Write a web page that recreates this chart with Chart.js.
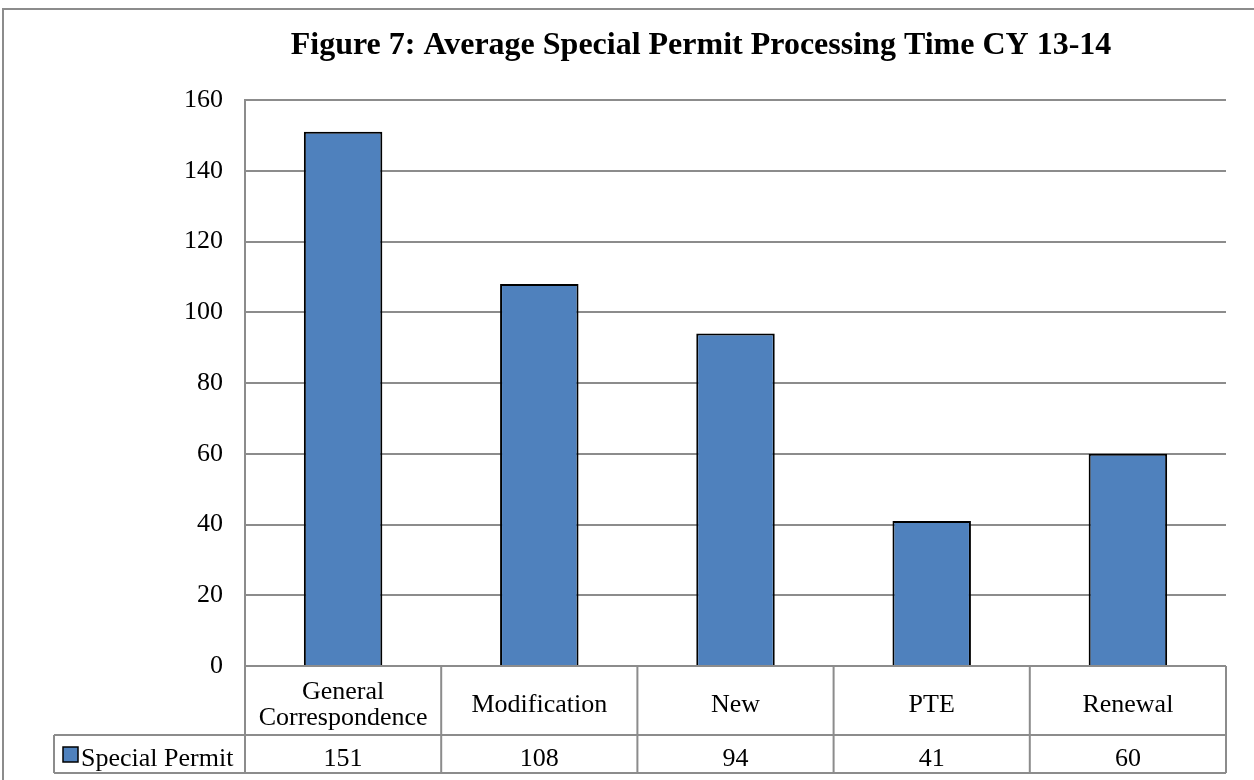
<!DOCTYPE html>
<html>
<head>
<meta charset="utf-8">
<script src="https://cdn.jsdelivr.net/npm/chart.js@4"></script>
<style>
  html, body { margin: 0; padding: 0; background: #fff; }
  #wrap { width: 1254px; height: 780px; position: relative; }
</style>
</head>
<body>
<div id="wrap"><canvas id="chart" width="1254" height="780"></canvas></div>
<script>
// chart data
const categories = [["General", "Correspondence"], "Modification", "New", "PTE", "Renewal"];
const seriesName = "Special Permit";
const permitDays = [151, 108, 94, 41, 60];
const yTicks = [0, 20, 40, 60, 80, 100, 120, 140, 160];
const chartTitle = "Figure 7: Average Special Permit Processing Time CY 13-14";

const serif = "'Liberation Serif', 'Times New Roman', serif";
const lineGray = "#8c8c8c";
const barBlue = "#4f81bd";

// draws the title, outer frame and the data table under the plot
const tablePlugin = {
  id: "dataTable",
  afterDraw(chart) {
    const ctx = chart.ctx;
    const area = chart.chartArea;
    const xs = chart.scales.x;
    const n = chart.data.labels.length;
    const catRowBottom = area.bottom + 69;
    const valRowBottom = catRowBottom + 38;
    const legendLeft = 54;

    ctx.save();
    // frame
    ctx.strokeStyle = lineGray;
    ctx.lineWidth = 2;
    ctx.strokeRect(3, 9, 1300, 900);

    // title
    ctx.fillStyle = "#000";
    ctx.font = "bold 32px " + serif;
    ctx.textAlign = "center";
    ctx.textBaseline = "alphabetic";
    ctx.fillText(chartTitle, 701, 54);

    // table lines
    ctx.lineWidth = 2;
    ctx.strokeStyle = lineGray;
    ctx.beginPath();
    ctx.moveTo(legendLeft, catRowBottom); ctx.lineTo(area.right, catRowBottom);
    ctx.moveTo(legendLeft, valRowBottom); ctx.lineTo(area.right, valRowBottom);
    ctx.moveTo(legendLeft, catRowBottom); ctx.lineTo(legendLeft, valRowBottom);
    const half = (xs.getPixelForValue(1) - xs.getPixelForValue(0)) / 2;
    for (let i = 0; i <= n; i++) {
      const x = i < n ? xs.getPixelForValue(i) - half : xs.getPixelForValue(n - 1) + half;
      ctx.moveTo(x, area.bottom); ctx.lineTo(x, valRowBottom);
    }
    ctx.stroke();

    // category labels and values
    ctx.fillStyle = "#000";
    ctx.font = "26px " + serif;
    ctx.textBaseline = "alphabetic";
    ctx.textAlign = "center";
    const catBase = area.bottom + 46;
    const valBase = catRowBottom + 31;
    chart.data.labels.forEach((lab, i) => {
      const x = xs.getPixelForValue(i);
      const lines = Array.isArray(lab) ? lab : [lab];
      lines.forEach((t, j) => {
        ctx.fillText(t, x, catBase + (j - (lines.length - 1) / 2) * 26);
      });
      ctx.fillText(String(chart.data.datasets[0].data[i]), x, valBase);
    });

    // legend key
    ctx.fillStyle = barBlue;
    ctx.fillRect(63, valBase - 19, 15, 15);
    ctx.strokeStyle = "#000";
    ctx.lineWidth = 1.5;
    ctx.strokeRect(63, valBase - 19, 15, 15);
    ctx.fillStyle = "#000";
    ctx.textAlign = "left";
    ctx.fillText(chart.data.datasets[0].label, 81, valBase);
    ctx.restore();
  }
};

new Chart(document.getElementById("chart"), {
  type: "bar",
  data: {
    labels: categories,
    datasets: [{
      label: seriesName,
      data: permitDays,
      backgroundColor: barBlue,
      borderColor: "#000",
      borderWidth: 2,
      barPercentage: 0.4,
      categoryPercentage: 1.0
    }]
  },
  options: {
    responsive: false,
    animation: false,
    layout: { padding: { top: 100, right: 28, bottom: 114, left: 0 } },
    plugins: {
      legend: { display: false },
      title: { display: false },
      tooltip: { enabled: false }
    },
    scales: {
      x: {
        display: false
      },
      y: {
        min: 0,
        max: 160,
        afterFit(scale) { scale.width = 245; },
        afterBuildTicks(scale) { scale.ticks = yTicks.map(v => ({ value: v })); },
        ticks: {
          color: "#000",
          font: { family: serif, size: 26 },
          padding: 22
        },
        grid: { color: lineGray, lineWidth: 2, drawTicks: false },
        border: { color: lineGray, width: 2 }
      }
    }
  },
  plugins: [tablePlugin]
});
</script>
</body>
</html>
